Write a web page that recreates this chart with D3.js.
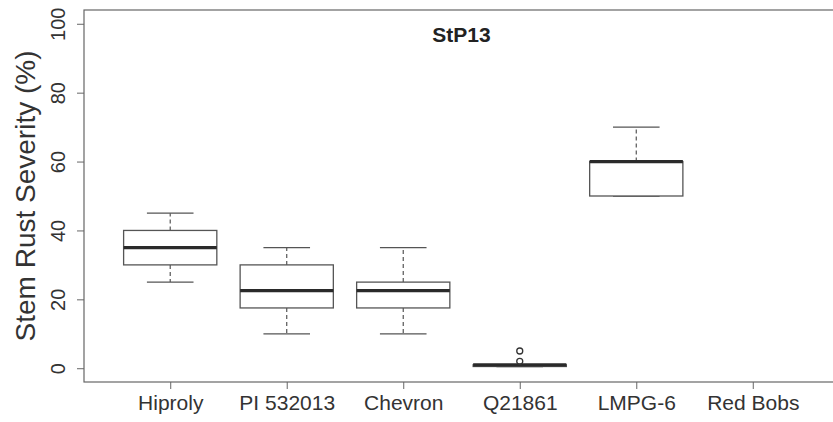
<!DOCTYPE html>
<html>
<head>
<meta charset="utf-8">
<script src="https://cdn.jsdelivr.net/npm/d3@7"></script>
<style>
  body { margin: 0; background: #fff; }
  svg { display: block; font-family: "Liberation Sans", Arial, sans-serif; }
</style>
</head>
<body>
<div id="chart"></div>
<script>
// Box statistics (Red Bobs has no box drawn)
const categories = ["Hiproly", "PI 532013", "Chevron", "Q21861", "LMPG-6", "Red Bobs"];
const whiskerLow = [25, 10, 10, 0.5, 50, null];
const quartile1 = [30, 17.5, 17.5, 0.5, 50, null];
const medians = [35, 22.5, 22.5, 1, 60, null];
const quartile3 = [40, 30, 25, 1, 60, null];
const whiskerHigh = [45, 35, 35, 1, 70, null];
const outliers = [[], [], [], [2, 5], [], []];
const yTicks = [0, 20, 40, 60, 80, 100];

const width = 833;
const height = 422;
const margin = { top: 10, right: -6, bottom: 40, left: 84 };

const boxes = categories.map((name, i) => ({
    name,
    pos: i + 1,
    lo: whiskerLow[i],
    q1: quartile1[i],
    med: medians[i],
    q3: quartile3[i],
    hi: whiskerHigh[i],
    out: outliers[i]
}));

const svg = d3.select("#chart")
    .append("svg")
    .attr("width", width)
    .attr("height", height);

// R style extents: 0.5..6.5 and 0..100, each padded by 4%
const x = d3.scaleLinear()
    .domain([0.26, 6.74])
    .range([margin.left, width - margin.right]);

const y = d3.scaleLinear()
    .domain([-4, 104])
    .range([height - margin.bottom, margin.top]);

const boxW = x(1.4) - x(0.6);
const capW = boxW / 2;
const lineCol = "#555";

// plot frame
svg.append("rect")
    .attr("x", x(0.26))
    .attr("y", y(104))
    .attr("width", x(6.74) - x(0.26))
    .attr("height", y(-4) - y(104))
    .attr("fill", "none")
    .attr("stroke", "#666")
    .attr("stroke-width", 1.2);

// y axis
const yAxis = svg.append("g")
    .attr("transform", `translate(${margin.left},0)`)
    .call(d3.axisLeft(y).tickValues(yTicks).tickSize(7).tickSizeOuter(0));
yAxis.select(".domain").remove();
yAxis.selectAll(".tick line").attr("stroke", "#666");
yAxis.selectAll(".tick text")
    .attr("x", 0)
    .attr("dy", 0)
    .attr("transform", "translate(-19,0) rotate(-90)")
    .attr("text-anchor", "middle")
    .attr("font-size", "20px")
    .attr("fill", "#333");

// x axis
const xAxis = svg.append("g")
    .attr("transform", `translate(0,${height - margin.bottom})`)
    .call(d3.axisBottom(x)
        .tickValues(boxes.map(d => d.pos))
        .tickFormat((d, i) => categories[i])
        .tickSize(7)
        .tickSizeOuter(0));
xAxis.select(".domain").remove();
xAxis.selectAll(".tick line").attr("stroke", "#666");
xAxis.selectAll(".tick text")
    .attr("y", 28)
    .attr("dy", 0)
    .attr("font-size", "21px")
    .attr("fill", "#333");

const drawn = boxes.filter(d => d.med !== null);
const g = svg.append("g");

// whiskers (dashed)
g.selectAll(".whisker-hi")
    .data(drawn)
    .enter()
    .append("line")
    .attr("x1", d => x(d.pos))
    .attr("x2", d => x(d.pos))
    .attr("y1", d => y(d.q3))
    .attr("y2", d => y(d.hi))
    .attr("stroke", lineCol)
    .attr("stroke-width", 1.2)
    .attr("stroke-dasharray", "4,3");

g.selectAll(".whisker-lo")
    .data(drawn)
    .enter()
    .append("line")
    .attr("x1", d => x(d.pos))
    .attr("x2", d => x(d.pos))
    .attr("y1", d => y(d.q1))
    .attr("y2", d => y(d.lo))
    .attr("stroke", lineCol)
    .attr("stroke-width", 1.2)
    .attr("stroke-dasharray", "4,3");

// whisker caps
["hi", "lo"].forEach(k => {
    g.selectAll(".cap-" + k)
        .data(drawn)
        .enter()
        .append("line")
        .attr("x1", d => x(d.pos) - capW / 2)
        .attr("x2", d => x(d.pos) + capW / 2)
        .attr("y1", d => y(d[k]))
        .attr("y2", d => y(d[k]))
        .attr("stroke", lineCol)
        .attr("stroke-width", 1.3);
});

// boxes
g.selectAll(".box")
    .data(drawn)
    .enter()
    .append("rect")
    .attr("x", d => x(d.pos) - boxW / 2)
    .attr("y", d => y(d.q3))
    .attr("width", boxW)
    .attr("height", d => y(d.q1) - y(d.q3))
    .attr("fill", "white")
    .attr("stroke", lineCol)
    .attr("stroke-width", 1.3);

// medians
g.selectAll(".median")
    .data(drawn)
    .enter()
    .append("line")
    .attr("x1", d => x(d.pos) - boxW / 2)
    .attr("x2", d => x(d.pos) + boxW / 2)
    .attr("y1", d => y(d.med))
    .attr("y2", d => y(d.med))
    .attr("stroke", "#2a2a2a")
    .attr("stroke-width", 3.2);

// outliers
const outPts = drawn.flatMap(d => d.out.map(v => ({ pos: d.pos, v })));
g.selectAll(".outlier")
    .data(outPts)
    .enter()
    .append("circle")
    .attr("cx", d => x(d.pos))
    .attr("cy", d => y(d.v))
    .attr("r", 3)
    .attr("fill", "none")
    .attr("stroke", "#333")
    .attr("stroke-width", 1.3);

// title
svg.append("text")
    .attr("x", x(3.5))
    .attr("y", 42)
    .attr("text-anchor", "middle")
    .attr("font-size", "21px")
    .attr("font-weight", "bold")
    .attr("fill", "#222")
    .text("StP13");

// y axis label
svg.append("text")
    .attr("transform", `translate(35,${y(50)}) rotate(-90)`)
    .attr("text-anchor", "middle")
    .attr("font-size", "28px")
    .attr("fill", "#333")
    .text("Stem Rust Severity (%)");
</script>
</body>
</html>
